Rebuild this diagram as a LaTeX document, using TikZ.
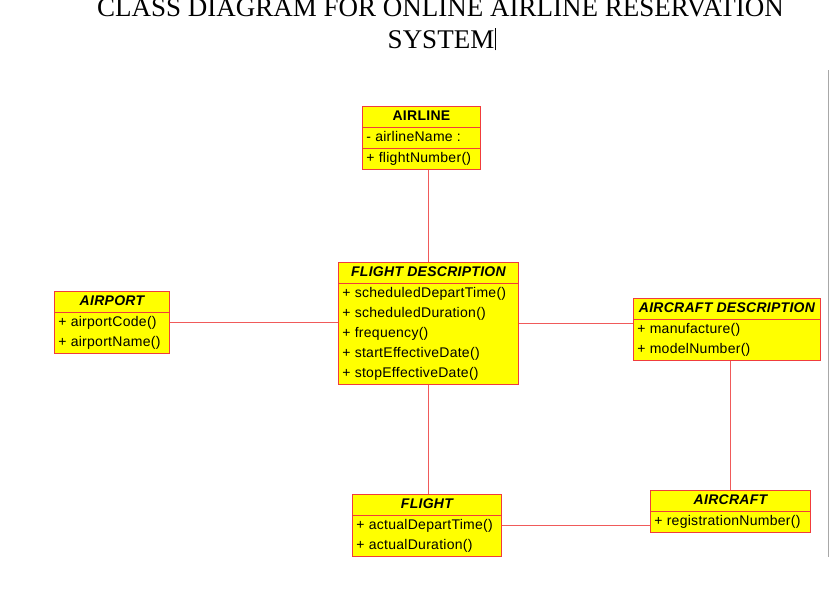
\documentclass[tikz,border=0pt]{standalone}
\usepackage{fontspec}
\setmainfont{Liberation Serif}
\newfontfamily\umlfont[LetterSpace=2]{Liberation Sans}
\usetikzlibrary{
  positioning,
  shapes.multipart
}
\definecolor{classfill}{HTML}{FFFF00}
\definecolor{classedge}{HTML}{F03C3C}
\definecolor{linkred}{HTML}{F05A5A}
\definecolor{pagegrey}{HTML}{A8A8A8}
\tikzset{
  classbox/.style={
    rectangle split, rectangle split parts=2, draw=classedge, fill=classfill,
    rectangle split part align={center,left,left},
    minimum width=#1, align=left, inner xsep=4pt, inner ysep=0pt,
    line width=0.9pt, font=\umlfont\fontsize{14}{20}\selectfont
  },
  link/.style={
    draw=linkred, line width=0.7pt
  },
  titletext/.style={
    font=\fontsize{27}{32}\selectfont, inner sep=0pt
  },
}

\begin{document}
\begin{tikzpicture}[x=1pt,y=-1pt]
  \useasboundingbox (0,0) rectangle (830,611);

  % title, partly cut off by the page
  \node[titletext, anchor=base] (title1) at (440.5,16) {CLASS DIAGRAM FOR ONLINE AIRLINE RESERVATION};
  \node[titletext, anchor=base] (title2) at (441,48) {SYSTEM};
  \draw[line width=0.6pt] ([xshift=1pt,yshift=-2pt]title2.south east) -- ([xshift=1pt,yshift=2pt]title2.north east);

  % page edge
  \draw[pagegrey, line width=1.4pt] (828.5,70) -- (828.5,557);

  % classes
  \node[classbox=118pt, rectangle split parts=3, anchor=north west] (airline) at (362,106)
    {\bfseries\strut AIRLINE
     \nodepart{two}\strut- airlineName :
     \nodepart{three}\strut+ flightNumber()};
  \node[classbox=180pt, anchor=north west] (fdesc) at (338,262)
    {\bfseries\itshape\strut FLIGHT DESCRIPTION
     \nodepart{two}\strut+ scheduledDepartTime()\\
     \strut+ scheduledDuration()\\
     \strut+ frequency()\\
     \strut+ startEffectiveDate()\\
     \strut+ stopEffectiveDate()};
  \node[classbox=115pt, anchor=north west] (airport) at (54,291)
    {\bfseries\itshape\strut AIRPORT
     \nodepart{two}\strut+ airportCode()\\
     \strut+ airportName()};
  \node[classbox=187pt, anchor=north west] (acdesc) at (633,298)
    {\bfseries\itshape\strut AIRCRAFT DESCRIPTION
     \nodepart{two}\strut+ manufacture()\\
     \strut+ modelNumber()};
  \node[classbox=149pt, anchor=north west] (flight) at (352,494)
    {\bfseries\itshape\strut FLIGHT
     \nodepart{two}\strut+ actualDepartTime()\\
     \strut+ actualDuration()};
  \node[classbox=160pt, anchor=north west] (aircraft) at (650,490)
    {\bfseries\itshape\strut AIRCRAFT
     \nodepart{two}\strut+ registrationNumber()};

  % associations
  \draw[link] (fdesc.north) -- (fdesc.north |- airline.south);
  \draw[link] (airport.east) -- (airport.east -| fdesc.west);
  \draw[link] (fdesc.east) -- (fdesc.east -| acdesc.west);
  \draw[link] (fdesc.south) -- (fdesc.south |- flight.north);
  \draw[link] (flight.east) -- (flight.east -| aircraft.west);
  \draw[link] (aircraft.north) -- (aircraft.north |- acdesc.south);
\end{tikzpicture}
\end{document}
